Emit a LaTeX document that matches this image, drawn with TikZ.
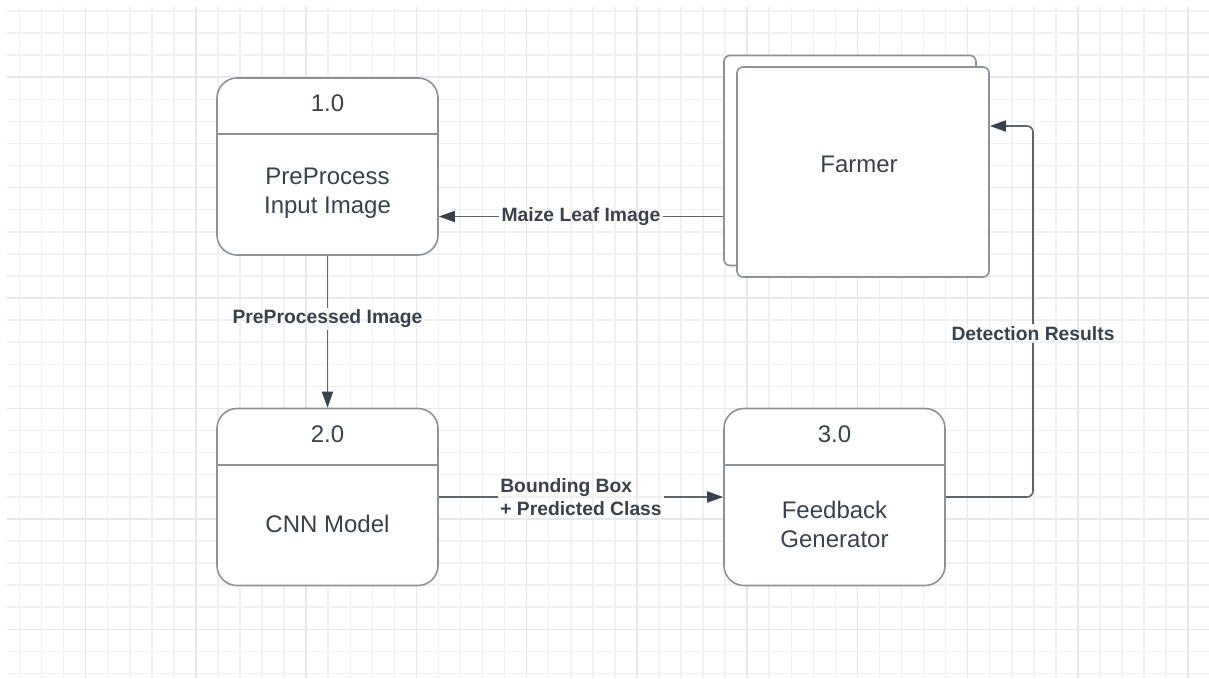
\documentclass[tikz,border=0pt]{standalone}
\usepackage{fontspec}
\setmainfont{Liberation Sans}
\usetikzlibrary{arrows.meta}
\definecolor{ink}{HTML}{3A414A}
\definecolor{edge}{HTML}{8E9298}
\definecolor{wirecol}{HTML}{5F656D}
\definecolor{gridminor}{HTML}{F1F1F1}
\definecolor{gridmajor}{HTML}{E8E8E8}
\tikzstyle{process} = [rectangle, rounded corners=20pt, minimum width=221pt, minimum height=177pt, draw=edge, line width=1.6pt, fill=white]
\tikzstyle{entity} = [rectangle, rounded corners=6pt, minimum width=252pt, minimum height=210pt, draw=edge, line width=1.6pt, fill=white]
\tikzstyle{boxtext} = [text=ink, font=\fontsize{24}{29}\selectfont, align=center]
\tikzstyle{flowlabel} = [text=ink, font=\fontsize{19.3}{23.4}\selectfont\bfseries, inner sep=2pt]
\tikzstyle{divider} = [draw=edge, line width=1.6pt]
\tikzstyle{wire} = [draw=wirecol, line width=1.6pt]
\tikzstyle{arrow} = [wire, -{Triangle[length=16pt, width=11pt, color=ink]}]

\begin{document}
\begin{tikzpicture}[x=1pt, y=-1pt] % one unit per pixel, y going down

% Page and grid
\fill[white] (0,0) rectangle (1209,678);
\useasboundingbox (0,0) rectangle (1209,678);
\foreach \k in {0,...,53}
  \draw[gridminor, line width=1.5pt] (19.5+22.05*\k,7) -- ++(0,671);
\foreach \k in {0,...,30}
  \draw[gridminor, line width=1.5pt] (7,11+22.08*\k) -- ++(1202,0);
\foreach \k in {3,8,...,53}
  \draw[gridmajor, line width=1.5pt] (19.5+22.05*\k,7) -- ++(0,671);
\foreach \k in {3,8,...,28}
  \draw[gridmajor, line width=1.5pt] (7,11+22.08*\k) -- ++(1202,0);

% Nodes
\node (p1) [process] at (327.5,166.5) {};
\node (p1id) [boxtext] at (327.5,103) {1.0};
\node (p1name) [boxtext] at (327.5,193.5) {PreProcess\\Input Image};
\draw [divider] ([yshift=-57pt]p1.north west) -- ([yshift=-57pt]p1.north east);

\node (p2) [process] at (327.5,497) {};
\node (p2id) [boxtext] at (327.5,434) {2.0};
\node (p2name) [boxtext] at (327.5,523.5) {CNN Model};
\draw [divider] ([yshift=-57pt]p2.north west) -- ([yshift=-57pt]p2.north east);

\node (p3) [process] at (834.5,497) {};
\node (p3id) [boxtext] at (834.5,434) {3.0};
\node (p3name) [boxtext] at (834.5,524.5) {Feedback\\Generator};
\draw [divider] ([yshift=-57pt]p3.north west) -- ([yshift=-57pt]p3.north east);

\node (farmerback) [entity] at (850,160.5) {};
\node (farmer) [entity] at (863,172) {};
\node (farmertext) [boxtext] at (859,164) {Farmer};

% Labels
\node (maize) [flowlabel] at (581,216.5) {Maize Leaf Image};
\node (preimg) [flowlabel] at (327.5,319) {PreProcessed Image};
\node (bbox) [flowlabel, align=left] at (581,497) {Bounding Box\\+ Predicted Class};
\node (detect) [flowlabel] at (1033,333.5) {Detection Results};

% Arrows
\draw [wire] (maize.east -| farmerback.west) -- (maize.east);
\draw [arrow] (maize.west) -- (maize.west -| p1.east);
\draw [wire] (p1.south) -- (preimg.north);
\draw [arrow] (preimg.south) -- (p2.north);
\draw [wire] (p2.east) -- (p2.east -| bbox.west);
\draw [arrow] (p3.west -| bbox.east) -- (p3.west);
\draw [wire, rounded corners=6pt] (p3.east) -| (detect.south);
\coordinate (farmerin) at ([yshift=46pt]farmer.east);
\draw [arrow, rounded corners=6pt] (detect.north) |- (farmerin);

\end{tikzpicture}
\end{document}
